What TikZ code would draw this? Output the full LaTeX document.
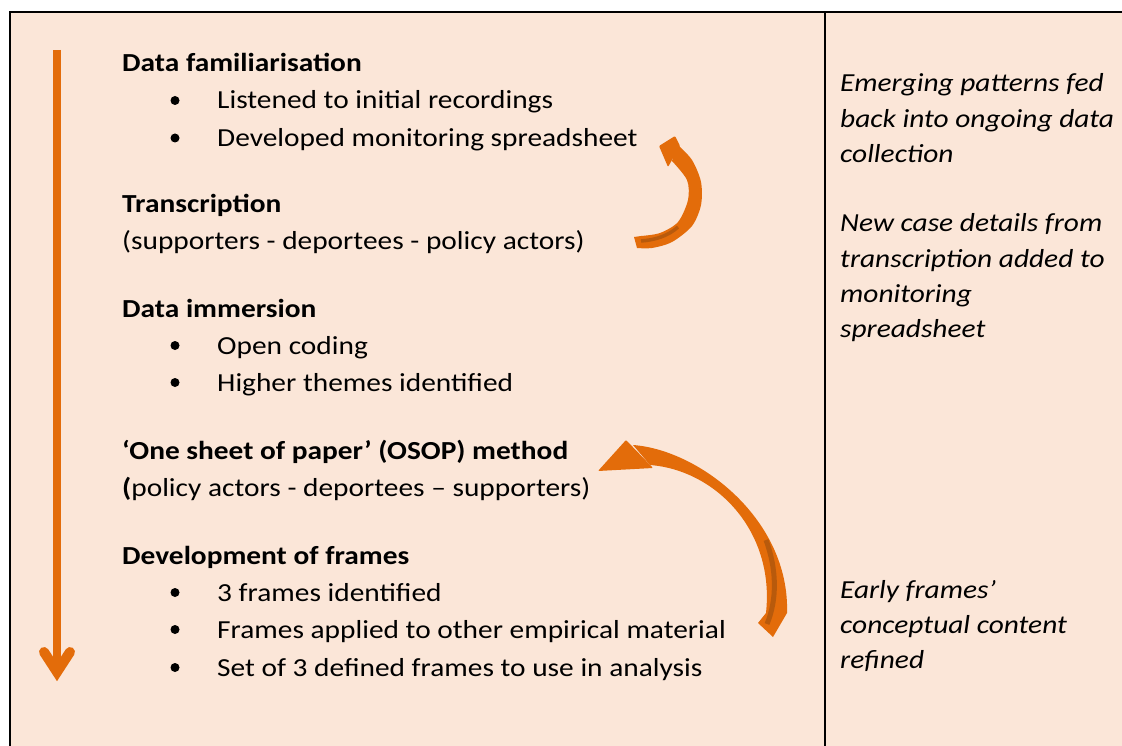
\documentclass[tikz,border=0pt]{standalone}
\usepackage{fontspec}
\setmainfont{Carlito}[FakeStretch=1.13]
\definecolor{peach}{HTML}{FBE6D8}
\definecolor{flow}{HTML}{E36C0A}
\definecolor{flowdark}{HTML}{B85A0C}
\begin{document}
\begin{tikzpicture}[x=1pt,y=-1pt,
  txt/.style={anchor=base west, inner sep=0pt, font=\fontsize{26}{30}\selectfont},
  stage/.style={txt, font=\fontsize{26}{30}\selectfont\bfseries},
  note/.style={txt, font=\fontsize{26}{30}\selectfont\itshape},
  dot/.style={circle, fill=black, inner sep=0pt, minimum size=9pt},
  rule/.style={line width=1.8pt, black}]
\useasboundingbox (0,0) rectangle (1122,746);

% table cell background and borders
\fill[peach] (10,12) rectangle (1122,746);
\draw[rule] (10,746) -- (10,12) -- (1122,12);
\draw[rule] (825,12) -- (825,746);

% downward process arrow
\coordinate (top) at (57,50);
\coordinate (bottom) at (57,668);
\coordinate (tip) at (57,672);
\draw[flow, line width=8pt] (top) -- (bottom);
\draw[flow, line width=10pt, line cap=round, line join=miter]
  (44,652) -- (tip) -- (70,652);

% stages of the analysis
\node[stage] (s1) at (122,72) {Data familiarisation};
\node[dot] (d11) at (175,100.5) {};
\node[txt] (t11) at (217,109) {Listened to initial recordings};
\node[dot] (d12) at (175,138) {};
\node[txt] (t12) at (217,146.5) {Developed monitoring spreadsheet};

\node[stage] (s2) at (122,213) {Transcription};
\node[txt] (t21) at (122,250) {(supporters - deportees - policy actors)};

\node[stage] (s3) at (122,317) {Data immersion};
\node[dot] (d31) at (175,345.5) {};
\node[txt] (t31) at (217,354) {Open coding};
\node[dot] (d32) at (175,382.5) {};
\node[txt] (t32) at (217,391) {Higher themes identified};

\node[stage] (s4) at (122,459) {‘One sheet of paper’ (OSOP) method};
\node[txt] (t41) at (122,496) {\textbf{(}policy actors - deportees – supporters)};

\node[stage] (s5) at (122,564) {Development of frames};
\node[dot] (d51) at (175,592.5) {};
\node[txt] (t51) at (217,601) {3 frames identified};
\node[dot] (d52) at (175,629.5) {};
\node[txt] (t52) at (217,638) {Frames applied to other empirical material};
\node[dot] (d53) at (175,667.5) {};
\node[txt] (t53) at (217,676) {Set of 3 defined frames to use in analysis};

% notes in the right column
\node[note] (n11) at (840,92) {Emerging patterns fed};
\node[note] (n12) at (840,128) {back into ongoing data};
\node[note] (n13) at (840,163) {collection};

\node[note] (n21) at (840,232) {New case details from};
\node[note] (n22) at (840,267) {transcription added to};
\node[note] (n23) at (840,302) {monitoring};
\node[note] (n24) at (840,337) {spreadsheet};

\node[note] (n31) at (840,598) {Early frames’};
\node[note] (n32) at (840,633) {conceptual content};
\node[note] (n33) at (840,668) {refined};

% feedback arrow: transcription back to familiarisation
\fill[flow] plot[smooth] coordinates {(677,144) (692,160) (701,182) (701,205) (692,226) (672,242) (652,248) (637,248)}
  -- (634,237)
  -- plot[smooth] coordinates {(641,236) (660,233) (678,222) (688,200) (687,180) (672,161)} -- cycle;
\fill[flow, rounded corners=1pt] (659,146) -- (675,136) -- (680,146) -- (668,167) -- cycle;
\draw[flowdark, line width=3.5pt] (641,241) .. controls (655,240) and (668,236) .. (678,227);

% feedback arrow: frames back to OSOP method
\fill[flow] (633,445) .. controls (700,450) and (790,520) .. (787,613)
  -- (773,637) -- (758,623) -- (766,613)
  .. controls (775,530) and (715,470) .. (650,465) -- cycle;
\fill[flow, rounded corners=1pt] (598,471) -- (626,440) -- (653,468) -- cycle;
\draw[flowdark, line width=5pt] (766,540) .. controls (777,570) and (777,600) .. (767,624);
\end{tikzpicture}
\end{document}
